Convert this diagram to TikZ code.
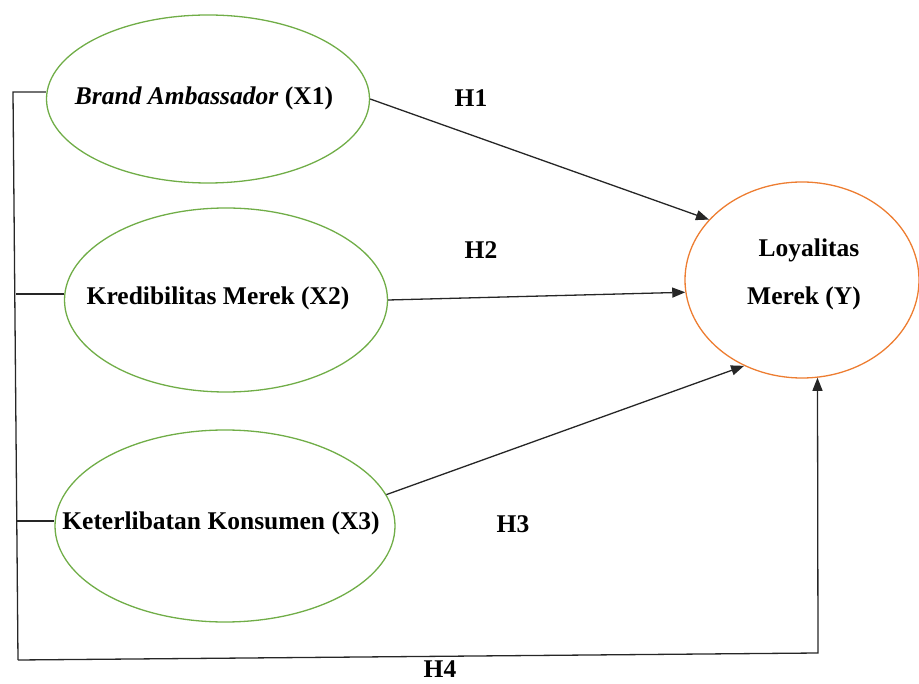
\documentclass[tikz,border=0pt]{standalone}
\usepackage{fontspec}
\setmainfont{Liberation Serif}
\usetikzlibrary{shapes.geometric,arrows.meta}
\definecolor{lgreen}{HTML}{70AD47}
\definecolor{lorange}{HTML}{ED7D31}
\begin{document}
\begin{tikzpicture}[x=1pt,y=-1pt,
  ell/.style={ellipse,draw=lgreen,line width=1.3pt,inner sep=0pt},
  lbl/.style={font=\fontsize{25.5}{48}\selectfont\bfseries,inner sep=0pt,align=center},
  conn/.style={line width=1.3pt,draw=black!85},
  arr/.style={conn,-{Triangle[length=13pt,width=10pt]}}]
\useasboundingbox (0,0) rectangle (919,684);
% ellipses
\node[ell,minimum width=323pt,minimum height=168pt] (e1) at (208,99) {};
\node[ell,minimum width=323pt,minimum height=184pt] (e2) at (226,300) {};
\node[ell,minimum width=340pt,minimum height=192pt] (e3) at (225,526) {};
\node[ellipse,draw=lorange,line width=1.3pt,inner sep=0pt,minimum width=234pt,minimum height=196pt] (y) at (802,280) {};
% texts
\node[lbl] (t1) at (204,98) {\textit{Brand Ambassador} (X1)};
\node[lbl] (t2) at (218,298) {Kredibilitas Merek (X2)};
\node[lbl] (t3) at (221,523) {Keterlibatan Konsumen (X3)};
\node[lbl] (ty) at (804,274) {\hspace*{10pt}Loyalitas\\Merek (Y)};
\node[lbl] (h1) at (471,98) {H1};
\node[lbl] (h2) at (481,250) {H2};
\node[lbl] (h3) at (513,524) {H3};
\node[lbl] (h4) at (440,669) {H4};
% bracket
\coordinate (a1) at (13,92);
\coordinate (a2) at (16,294);
\coordinate (a3) at (17,521);
\coordinate (b1) at (18,660);
\coordinate (b2) at (818,653);
\draw[conn] (e1.west |- a1) -- (a1) -- (b1);
\draw[conn] (a2) -- (e2.west |- a2);
\draw[conn] (a3) -- (e3.west |- a3);
\draw[arr] (b1) -- (b2) -- (y.279);
% arrows
\draw[arr] (e1.east) -- (y.147);
\draw[arr] (e2.east) -- (y.186);
\draw[arr] (e3.11) -- (y.236);
\end{tikzpicture}
\end{document}
